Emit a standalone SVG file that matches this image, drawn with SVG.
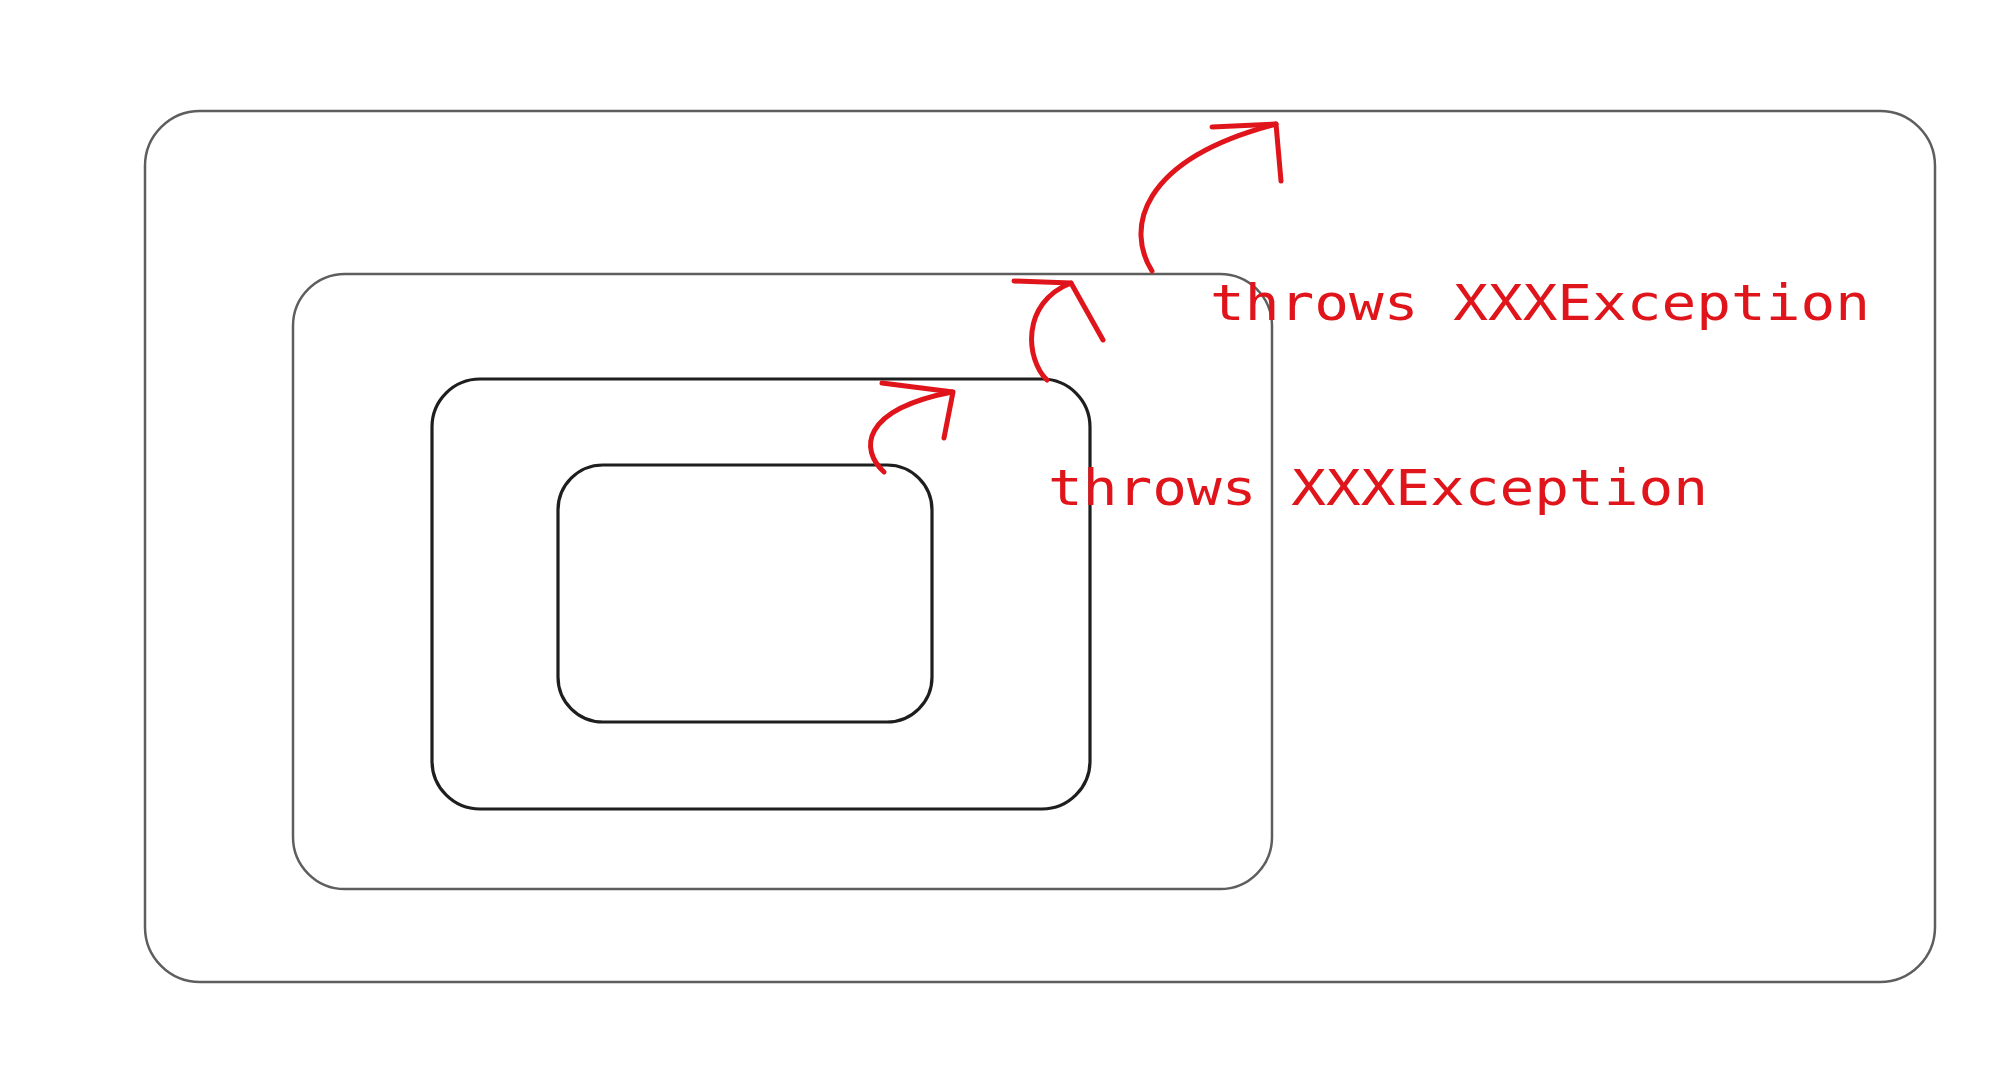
<svg xmlns="http://www.w3.org/2000/svg" width="2000" height="1091" viewBox="0 0 2000 1091">
<style>
.box{fill:none;stroke-linejoin:round}
.outer{stroke:#5e5e5e;stroke-width:2.5}
.inner{stroke:#1e1e1e;stroke-width:3.2}
.arr{fill:none;stroke:#e0151b;stroke-width:5;stroke-linecap:round;stroke-linejoin:round}
.lbl{font-family:"DejaVu Sans Mono","Liberation Mono",monospace;font-size:49px;fill:#e0151b}
</style>
<rect width="2000" height="1091" fill="#ffffff"/>
<g id="outer-box"><rect class="box outer" x="145" y="111" width="1790" height="871" rx="55" ry="55"/></g>
<g id="second-box"><rect class="box outer" x="293" y="274" width="979" height="615" rx="52" ry="52"/></g>
<g id="third-box"><rect class="box inner" x="432" y="379" width="658" height="430" rx="48" ry="48"/></g>
<g id="inner-box"><rect class="box inner" x="558" y="465" width="374" height="257" rx="45" ry="45"/></g>
<g id="connectors">
<path class="arr" d="M884,472 C860,450 860,410 952,392"/>
<path class="arr" d="M882,383 L953,392 L944,438"/>
<path class="arr" d="M1047,380 C1026,360 1020,303 1071,283"/>
<path class="arr" d="M1014,281 L1071,283 L1103,340"/>
<path class="arr" d="M1152,271 C1126,230 1138,160 1276,124"/>
<path class="arr" d="M1212,127 L1276,124 L1281,181"/>
</g>
<g id="label-1"><text class="lbl" x="1210" y="320" textLength="660" lengthAdjust="spacingAndGlyphs">throws XXXException</text></g>
<g id="label-2"><text class="lbl" x="1048" y="505" textLength="660" lengthAdjust="spacingAndGlyphs">throws XXXException</text></g>
</svg>
